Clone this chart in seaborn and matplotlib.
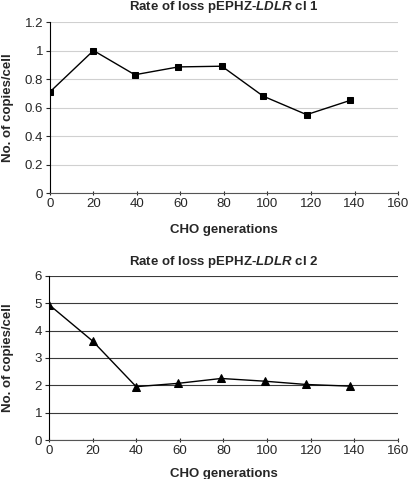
import matplotlib
matplotlib.use("Agg")
import matplotlib.pyplot as plt
import pandas as pd
import seaborn as sns

# Data
gen_cl1 = [0, 20, 39, 59, 79, 98, 118, 138]
copies_cl1 = [0.71, 1.0, 0.83, 0.885, 0.89, 0.68, 0.55, 0.65]

gen_cl2 = [0, 20, 40, 59, 79, 99, 118, 138]
copies_cl2 = [4.95, 3.62, 1.95, 2.07, 2.25, 2.15, 2.03, 1.97]

x_ticks = [0, 20, 40, 60, 80, 100, 120, 140, 160]
y_ticks_cl1 = [0, 0.2, 0.4, 0.6, 0.8, 1.0, 1.2]
y_tick_labels_cl1 = ["0", "0.2", "0.4", "0.6", "0.8", "1", "1.2"]
y_ticks_cl2 = [0, 1, 2, 3, 4, 5, 6]

sns.set_style("white")
plt.rcParams["font.family"] = ["Liberation Sans", "DejaVu Sans"]
plt.rcParams["mathtext.fontset"] = "custom"
plt.rcParams["mathtext.it"] = "Liberation Sans:italic:bold"
plt.rcParams["mathtext.rm"] = "Liberation Sans:bold"

fig = plt.figure(figsize=(4.08, 4.79), dpi=100)
ax1 = fig.add_axes([0.1225, 0.597, 0.853, 0.357])
ax2 = fig.add_axes([0.1200, 0.0814, 0.855, 0.3426])

df1 = pd.DataFrame({"gen": gen_cl1, "copies": copies_cl1})
df2 = pd.DataFrame({"gen": gen_cl2, "copies": copies_cl2})

sns.lineplot(data=df1, x="gen", y="copies", marker="s", markersize=5,
             color="black", linewidth=1.0, markeredgecolor="black", ax=ax1)
sns.lineplot(data=df2, x="gen", y="copies", marker="^", markersize=6,
             color="black", linewidth=1.0, markeredgecolor="black", ax=ax2)


def style_axes(ax, yticks, ylabels, ylim, grid_color, title, tpad, xpad):
    ax.set_xlim(0, 160)
    ax.set_ylim(*ylim)
    ax.set_xticks(x_ticks)
    ax.set_yticks(yticks)
    ax.set_yticklabels(ylabels)
    ax.yaxis.grid(True, color=grid_color, linewidth=0.8)
    ax.set_axisbelow(True)
    for side in ["top", "right"]:
        ax.spines[side].set_visible(False)
    ax.spines["left"].set_color("black")
    ax.spines["bottom"].set_color("#555555")
    ax.spines["left"].set_linewidth(0.8)
    ax.spines["bottom"].set_linewidth(0.8)
    ax.tick_params(axis="y", direction="out", length=3, width=0.8,
                   labelsize=9.5, pad=2, left=True)
    ax.tick_params(axis="x", direction="inout", length=3, width=0.8,
                   labelsize=9.5, pad=2, bottom=True)
    ax.set_xlabel("CHO generations", fontsize=9.5, fontweight="bold",
                  labelpad=xpad)
    ax.set_ylabel("No. of copies/cell", fontsize=9.5, fontweight="bold")
    ax.set_title(title, fontsize=9.5, fontweight="bold", pad=tpad)


style_axes(ax1, y_ticks_cl1, y_tick_labels_cl1, (0, 1.2), "#d0d0d0",
           r"Rate of loss pEPHZ-$\it{LDLR}$ cl 1", 8.5, 10)
style_axes(ax2, y_ticks_cl2, [str(v) for v in y_ticks_cl2], (0, 6),
           "#3a3a3a", r"Rate of loss pEPHZ-$\it{LDLR}$ cl 2", 7.5, 8)

ax1.yaxis.set_label_coords(-0.102, 0.5)
ax2.yaxis.set_label_coords(-0.099, 0.5)

fig.savefig("out.png", dpi=100)
